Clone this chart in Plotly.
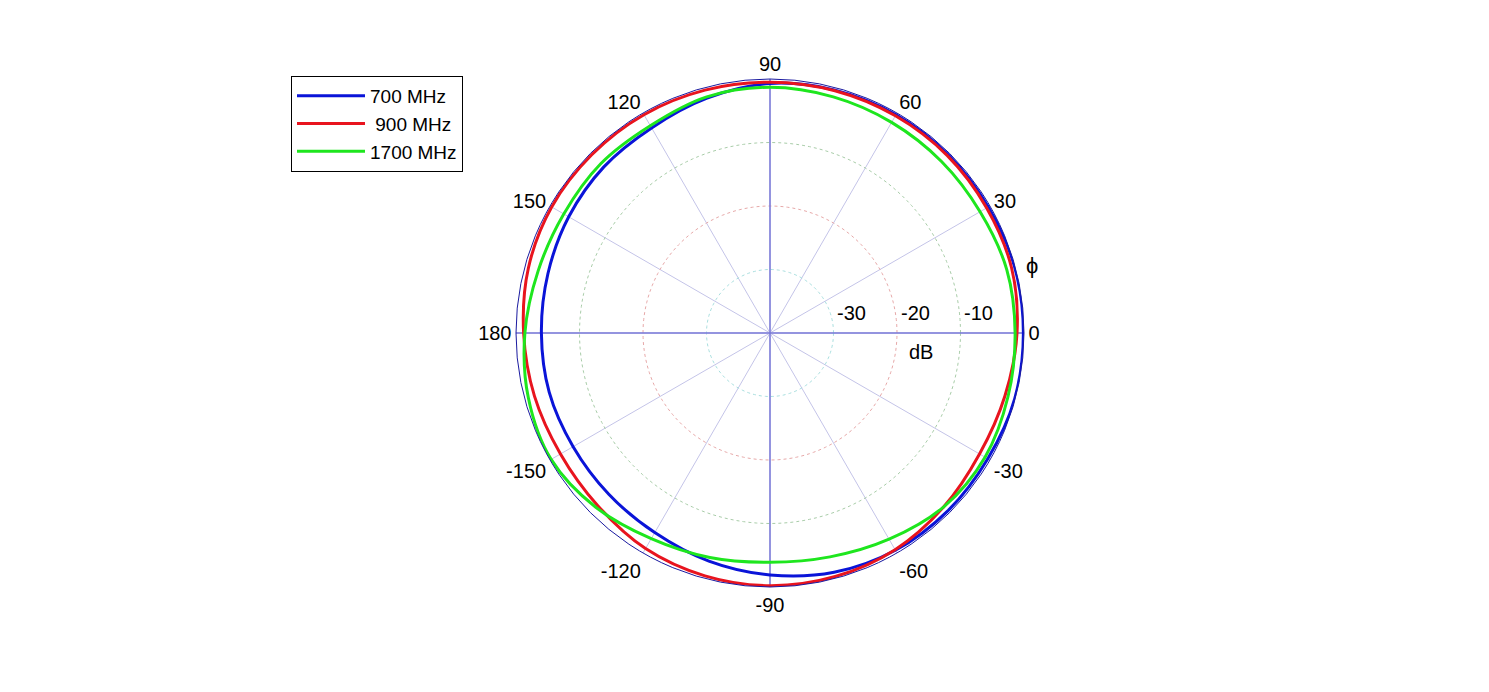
import plotly.graph_objects as go

# Angles (degrees) at which the patterns were read
angles = [0, 15, 30, 45, 60, 75, 90, 105, 120, 135, 150, 165,
          180, 195, 210, 225, 240, 255, 270, 285, 300, 315, 330, 345]

# Normalised gain (dB)
gain_700 = [-0.1, -0.1, -0.3, -0.3, -0.3, -0.4, -0.7, -1.7, -2.7, -3.0, -3.4, -3.8,
            -4.0, -4.0, -4.2, -4.1, -3.7, -2.8, -1.9, -1.0, -0.5, -0.4, -0.4, -0.1]
gain_900 = [-1.1, -0.6, -0.6, -0.5, -0.5, -0.5, -0.5, -0.4, -0.3, -0.3, -0.3, -0.6,
            -1.2, -1.6, -1.9, -1.6, -0.8, -0.4, -0.2, -0.3, -0.6, -1.3, -1.9, -1.7]
gain_1700 = [-1.4, -1.4, -1.8, -1.8, -1.7, -1.5, -1.3, -1.5, -2.3, -2.3, -2.5, -2.2,
             -1.4, -0.6, -0.2, -1.2, -2.6, -3.4, -3.9, -3.5, -2.5, -1.3, -0.9, -1.2]

series_names = ["700 MHz", "\u00a0900 MHz", "1700 MHz"]
series_colors = ["#0a14d8", "#e8141e", "#1ee61e"]

angle_ticks = [0, 30, 60, 90, 120, 150, 180, 210, 240, 270, 300, 330]
angle_labels = ["0", "30", "60", "90", "120", "150", "180", "-150", "-120", "-90", "-60", "-30"]
ring_levels = [-30, -20, -10]
ring_colors = ["#a8dede", "#e6a8a8", "#a8cca8"]
r_min, r_max = -40, 0

W, H = 1489, 692
OFF = 8  # page body margin


def px(x):
    return (x - OFF) / W


def py(y):
    return (H - (y - OFF)) / H


fig = go.Figure()

# dotted reference rings
ring_theta = list(range(0, 361, 2))
for lvl, col in zip(ring_levels, ring_colors):
    fig.add_trace(go.Scatterpolar(r=[lvl] * len(ring_theta), theta=ring_theta, mode="lines",
                                  line=dict(color=col, width=1, dash="dot"),
                                  showlegend=False, hoverinfo="skip"))

# main cross axes
for th in (0, 90):
    fig.add_trace(go.Scatterpolar(r=[r_max, r_min, r_max], theta=[th, th, th + 180], mode="lines",
                                  line=dict(color="#7a7ad8", width=1.5),
                                  showlegend=False, hoverinfo="skip"))

for name, vals, col in zip(series_names, [gain_700, gain_900, gain_1700], series_colors):
    fig.add_trace(go.Scatterpolar(r=vals + [vals[0]], theta=angles + [angles[0] + 360],
                                  mode="lines", name=name,
                                  line=dict(color=col, width=3, shape="spline", smoothing=1.0)))

fs = 20
cx, cy, R = 770, 333, 254
fig.update_layout(
    width=W, height=H,
    margin=dict(l=0, r=0, t=0, b=0),
    paper_bgcolor="white",
    font=dict(family="Liberation Sans, Arial, sans-serif", size=fs, color="black"),
    polar=dict(
        domain=dict(x=[px(cx - R), px(cx + R)], y=[py(cy + R), py(cy - R)]),
        bgcolor="white",
        radialaxis=dict(range=[r_min, r_max], showgrid=False, showline=False,
                        showticklabels=False, ticks=""),
        angularaxis=dict(direction="counterclockwise", rotation=0,
                         tickmode="array", tickvals=angle_ticks, ticktext=angle_labels,
                         showline=True, linecolor="#1a1aa0", linewidth=1,
                         showgrid=True, gridcolor="#c4c4e8", gridwidth=1,
                         ticks="", tickfont=dict(size=fs, color="black")),
    ),
    legend=dict(x=px(291), y=py(76), xanchor="left", yanchor="top",
                bordercolor="black", borderwidth=1, bgcolor="white",
                font=dict(size=19), itemwidth=68, tracegroupgap=0),
    showlegend=True,
)

# radial labels and axis titles
ann = []
for lvl, xpix in zip(ring_levels, [851, 915, 978]):
    ann.append(dict(x=px(xpix), y=py(313), xref="paper", yref="paper",
                    text=str(lvl), showarrow=False, font=dict(size=fs)))
ann.append(dict(x=px(921), y=py(352), xref="paper", yref="paper",
                text="dB", showarrow=False, font=dict(size=fs)))
ann.append(dict(x=px(1040), y=py(266), xref="paper", yref="paper",
                text="\u03d5", showarrow=False, font=dict(size=fs + 2)))
fig.update_layout(annotations=ann)

fig.write_html("out.html")
